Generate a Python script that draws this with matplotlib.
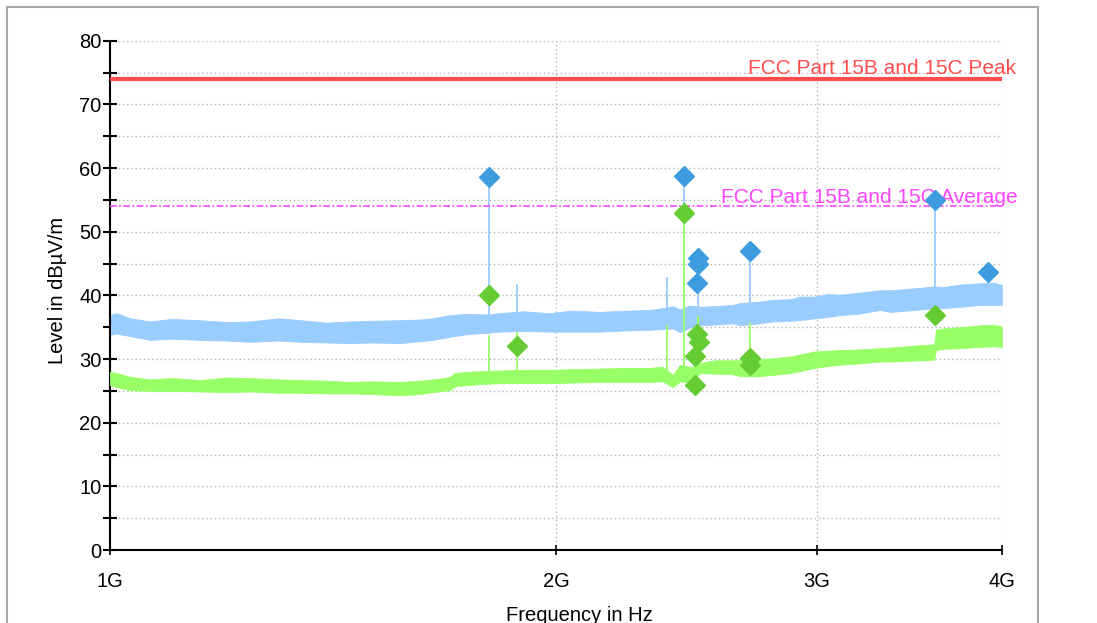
import numpy as np
import matplotlib
matplotlib.use('Agg')
import matplotlib.pyplot as plt
import matplotlib.transforms as mtransforms
from matplotlib.patches import Rectangle
from matplotlib.ticker import FixedLocator, FixedFormatter, MultipleLocator, NullLocator

plt.rcParams['font.family'] = ['Liberation Sans', 'DejaVu Sans']

# ── Colours ───────────────────────────────────────────────────────────────────
PEAK_TRACE = '#99CCFF'
AVG_TRACE  = '#99FF66'
PEAK_MARK  = '#3D9BDF'
AVG_MARK   = '#66CC33'
LIMIT_PK   = '#FF4D4D'
LIMIT_AV   = '#FF44FF'
GRID       = '#B4B4B4'

# ── Data (frequency in GHz, level in dBuV/m) ──────────────────────────────────
x_ticks = [1, 2, 3, 4]
x_tick_labels = ['1G', '2G', '3G', '4G']

limit_peak = 74.0
limit_avg = 54.0
limit_peak_label = 'FCC Part 15B and 15C Peak'
limit_avg_label = 'FCC Part 15B and 15C Average'

# peak trace envelope
peak_f = [1.000, 1.010, 1.032, 1.064, 1.100, 1.150, 1.200, 1.243, 1.300, 1.344,
          1.400, 1.452, 1.500, 1.569, 1.620, 1.652, 1.696, 1.742, 1.790, 1.833,
          1.900, 1.981, 2.050, 2.142, 2.230, 2.315, 2.360, 2.399, 2.425, 2.460,
          2.502, 2.560, 2.633, 2.662, 2.740, 2.802, 2.877, 2.922, 2.991, 3.050,
          3.110, 3.200, 3.309, 3.361, 3.450, 3.530, 3.593, 3.650, 3.750, 3.866,
          3.950, 4.000]
peak_hi = [36.9, 37.2, 36.4, 35.9, 36.3, 36.1, 35.8, 35.9, 36.4, 36.1,
           35.7, 35.9, 36.0, 36.1, 36.2, 36.4, 36.9, 37.1, 37.0, 37.2,
           37.5, 37.2, 37.6, 37.4, 37.6, 37.7, 38.0, 38.3, 37.8, 38.4,
           38.2, 38.3, 38.5, 38.8, 39.0, 39.3, 39.4, 39.8, 39.8, 40.2,
           40.1, 40.4, 40.8, 40.8, 41.0, 41.2, 41.4, 41.3, 41.7, 41.9,
           42.0, 41.6]
peak_lo = [33.8, 34.0, 33.6, 33.0, 33.2, 33.0, 32.9, 32.7, 32.9, 32.7,
           32.6, 32.5, 32.6, 32.5, 32.8, 33.0, 33.5, 33.9, 34.1, 34.3,
           34.4, 34.3, 34.3, 34.3, 34.5, 34.6, 34.7, 34.8, 34.2, 34.9,
           35.3, 35.4, 35.6, 35.3, 35.6, 35.9, 36.0, 36.1, 36.4, 36.6,
           36.9, 37.1, 37.7, 37.4, 37.6, 37.8, 38.0, 38.0, 38.2, 38.5,
           38.5, 38.5]

# average trace envelope
avg_f = [1.000, 1.010, 1.032, 1.064, 1.100, 1.150, 1.200, 1.243, 1.300, 1.344,
         1.400, 1.452, 1.500, 1.569, 1.620, 1.652, 1.680, 1.696, 1.710, 1.742,
         1.790, 1.833, 1.900, 1.981, 2.050, 2.142, 2.230, 2.315, 2.360, 2.399,
         2.425, 2.460, 2.480, 2.502, 2.560, 2.633, 2.662, 2.740, 2.802, 2.877,
         2.922, 2.991, 3.050, 3.110, 3.200, 3.309, 3.361, 3.450, 3.530, 3.600,
         3.610, 3.650, 3.750, 3.866, 3.950, 4.000]
avg_hi = [28.0, 27.8, 27.2, 26.8, 27.0, 26.7, 27.1, 27.0, 26.8, 26.7,
          26.6, 26.4, 26.5, 26.4, 26.6, 26.8, 27.0, 27.2, 27.8, 28.0,
          28.1, 28.2, 28.3, 28.3, 28.4, 28.5, 28.6, 28.6, 28.8, 27.5,
          29.1, 28.8, 28.8, 29.4, 29.8, 29.8, 29.8, 30.0, 30.1, 30.4,
          30.7, 31.2, 31.3, 31.4, 31.5, 31.7, 31.8, 32.0, 32.2, 32.3,
          34.6, 34.8, 35.0, 35.3, 35.4, 35.1]
avg_lo = [25.9, 25.6, 25.1, 25.0, 25.0, 24.9, 24.8, 24.9, 24.7, 24.7,
          24.6, 24.6, 24.5, 24.3, 24.5, 24.8, 25.0, 25.1, 25.7, 25.9,
          26.1, 26.2, 26.2, 26.2, 26.3, 26.4, 26.4, 26.4, 26.5, 25.6,
          26.5, 26.3, 26.8, 27.8, 27.7, 27.6, 27.3, 27.3, 27.5, 27.8,
          28.1, 28.6, 28.9, 29.1, 29.3, 29.6, 29.6, 29.7, 29.8, 29.9,
          31.4, 31.6, 31.7, 31.9, 32.0, 31.9]

# narrow emissions rising out of the traces
peak_spike_f   = [1.802, 1.883, 2.377, 2.439, 2.492, 2.702, 3.605]
peak_spike_top = [58.6, 41.8, 42.9, 58.8, 45.9, 46.9, 55.0]
peak_spike_bot = [34.0, 34.3, 35.0, 35.0, 35.0, 35.6, 38.0]

avg_spike_f   = [1.802, 1.883, 2.377, 2.439, 2.492, 2.702]
avg_spike_top = [33.8, 34.2, 35.3, 52.9, 36.7, 35.7]
avg_spike_bot = [26.1, 26.2, 26.5, 26.5, 27.5, 27.3]

# final measurement markers
peak_mark_f   = [1.802, 2.439, 2.4925, 2.4925, 2.490, 2.702, 3.605, 3.914]
peak_mark_lvl = [58.6, 58.8, 45.9, 44.9, 41.9, 46.9, 55.0, 43.7]

avg_mark_f   = [1.802, 1.883, 2.439, 2.490, 2.496, 2.484, 2.484, 2.702, 2.702, 3.605]
avg_mark_lvl = [40.1, 32.1, 52.9, 34.0, 32.7, 30.4, 25.9, 30.1, 29.1, 36.9]

GHZ = 1e9

# ── Figure ────────────────────────────────────────────────────────────────────
fig = plt.figure(figsize=(10.97, 6.23), dpi=100)
ax = fig.add_axes([110 / 1097, 1 - 550 / 623, 892 / 1097, 509.3 / 623])
ax.set_xscale('log')
ax.set_xlim(1 * GHZ, 4 * GHZ)
ax.set_ylim(0, 80)

# traces
ax.fill_between(np.array(peak_f) * GHZ, peak_lo, peak_hi,
                color=PEAK_TRACE, lw=0.6, zorder=2)
ax.vlines(np.array(peak_spike_f) * GHZ, peak_spike_bot, peak_spike_top,
          colors=PEAK_TRACE, lw=1.3, zorder=2)
ax.fill_between(np.array(avg_f) * GHZ, avg_lo, avg_hi,
                color=AVG_TRACE, lw=0.6, zorder=3)
ax.vlines(np.array(avg_spike_f) * GHZ, avg_spike_bot, avg_spike_top,
          colors=AVG_TRACE, lw=1.3, zorder=3)

# limits
ax.axhline(limit_peak, color=LIMIT_PK, lw=3, zorder=4)
ax.axhline(limit_avg, color=LIMIT_AV, lw=1.2, dashes=[4, 1.5, 1, 1.5], zorder=4)
trans = mtransforms.blended_transform_factory(ax.transAxes, ax.transData)
ax.text((748 - 110) / 892, 74.8, limit_peak_label, transform=trans,
        color=LIMIT_PK, fontsize=15, va='baseline', ha='left', clip_on=False)
ax.text((721 - 110) / 892, 54.5, limit_avg_label, transform=trans,
        color=LIMIT_AV, fontsize=15, va='baseline', ha='left', clip_on=False)

# markers
ax.plot(np.array(peak_mark_f) * GHZ, peak_mark_lvl, 'D', ms=10,
        color=PEAK_MARK, ls='none', zorder=5, clip_on=False)
ax.plot(np.array(avg_mark_f) * GHZ, avg_mark_lvl, 'D', ms=10,
        color=AVG_MARK, ls='none', zorder=5, clip_on=False)

# axes styling
for side in ('top', 'right'):
    ax.spines[side].set_visible(False)
for side in ('left', 'bottom'):
    ax.spines[side].set_linewidth(1.5)

ax.xaxis.set_major_locator(FixedLocator([v * GHZ for v in x_ticks]))
ax.xaxis.set_major_formatter(FixedFormatter(x_tick_labels))
ax.xaxis.set_minor_locator(NullLocator())
ax.yaxis.set_major_locator(MultipleLocator(10))
ax.yaxis.set_minor_locator(MultipleLocator(5))

ax.tick_params(axis='y', which='both', direction='inout', length=10,
               width=1.5, labelsize=14.5, pad=1)
ax.tick_params(axis='x', which='major', direction='inout', length=7,
               width=1.2, labelsize=14.5, pad=12)

ax.grid(True, which='both', axis='y', ls=(0, (1, 2)), color=GRID, lw=1, zorder=0)
ax.grid(True, which='major', axis='x', ls=(0, (1, 2)), color=GRID, lw=1, zorder=0)
ax.set_axisbelow(True)

ax.set_xlabel('Frequency in Hz', fontsize=14.5)
ax.xaxis.set_label_coords((579 - 110) / 892, -(606 - 550) / 509.3)
ax.set_ylabel('Level in dBµV/m', fontsize=14.5)
ax.yaxis.set_label_coords((67 - 110) / 892, 0.51)

# outer frame
fig.patches.append(Rectangle((7 / 1097, -0.05), (1038 - 7) / 1097, 1.05 - 7 / 623,
                             transform=fig.transFigure, fill=False,
                             edgecolor='#A8A8A8', lw=1.5))

fig.savefig('out.png', dpi=100)
